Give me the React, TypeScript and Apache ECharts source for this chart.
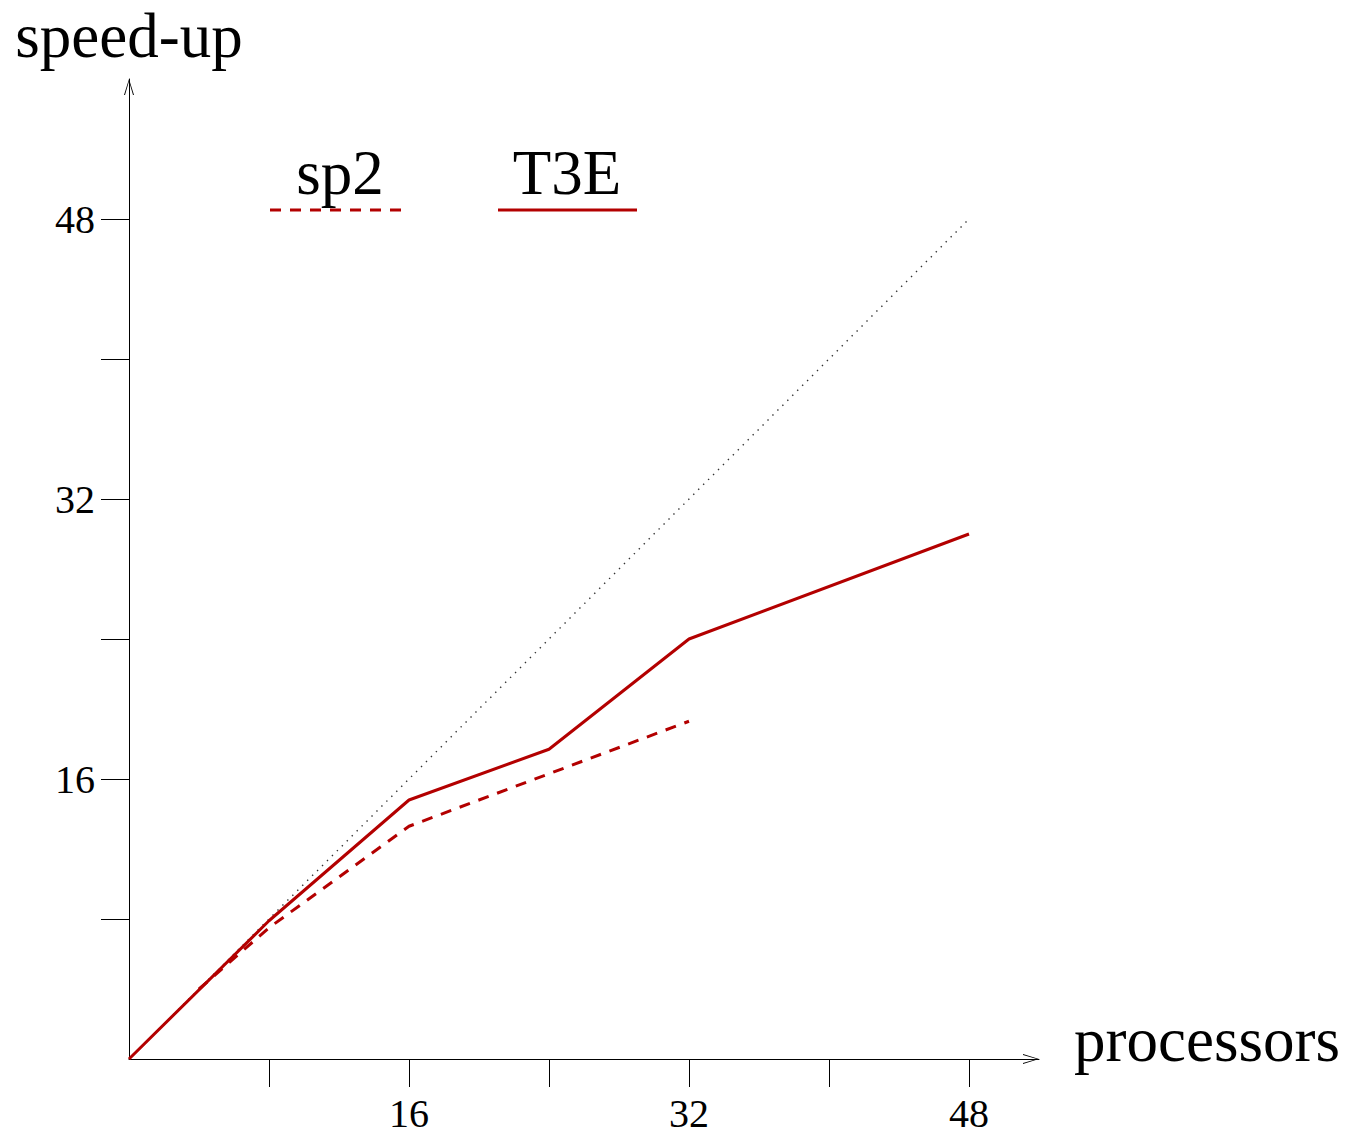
import React, { useEffect, useRef } from "react";
import * as echarts from "echarts";

// ---- data ----
const tickValues = [8, 16, 24, 32, 40, 48];
const labelValues = [16, 32, 48];
const idealProcs = [0, 48];
const idealSpeed = [0, 48];
const t3eProcs = [0, 8, 16, 24, 32, 48];
const t3eSpeed = [0, 7.9, 14.8, 17.7, 24.0, 30.0];
const sp2Procs = [4, 8, 16, 24, 32];
const sp2Speed = [4, 7.5, 13.3, 16.3, 19.3];
const xName = "processors";
const yName = "speed-up";
const seriesNames = ["sp2", "T3E"];

const RED = "#b30000";
const FONT = "'Liberation Serif', 'Times New Roman', serif";
const ARROW = "path://M5,0 L10,16 L9,16 L5,2.2 L1,16 L0,16 Z";

const pairs = (xs: number[], ys: number[]) => xs.map((x, i) => [x, ys[i]]);

export default function App() {
  const ref = useRef<HTMLDivElement>(null);
  useEffect(() => {
    if (!ref.current) return;
    const chart = echarts.init(ref.current, undefined, { renderer: "svg" });
    const axisCommon = {
      type: "value" as const,
      min: 0,
      splitLine: { show: false },
      axisLine: {
        show: true,
        lineStyle: { color: "#000", width: 1 },
        symbol: ["none", ARROW],
        symbolSize: [10, 16],
        symbolOffset: [0, -8],
      },
      axisTick: { show: true, length: 28, customValues: tickValues, lineStyle: { color: "#000", width: 1 } },
      axisLabel: {
        customValues: labelValues,
        margin: 34,
        color: "#000",
        fontFamily: FONT,
        fontSize: 40,
      },
      nameTextStyle: { color: "#000", fontFamily: FONT, fontSize: 63 },
    };
    chart.setOption({
      animation: false,
      backgroundColor: "#fff",
      grid: { left: 129, right: 310, top: 79, bottom: 78, containLabel: false },
      xAxis: {
        ...axisCommon,
        max: 52,
        name: xName,
        nameLocation: "end",
        nameGap: 35,
        nameTextStyle: { ...axisCommon.nameTextStyle, verticalAlign: "bottom", lineHeight: 38 },
      },
      yAxis: {
        ...axisCommon,
        max: 56,
        name: yName,
        nameLocation: "end",
        nameGap: 12,
        nameTextStyle: { ...axisCommon.nameTextStyle, align: "center", verticalAlign: "bottom" },
      },
      series: [
        {
          name: "ideal",
          type: "line",
          data: pairs(idealProcs, idealSpeed),
          showSymbol: false,
          silent: true,
          lineStyle: { color: "#333", width: 1.4, type: [1.4, 5.6] },
          z: 1,
        },
        {
          name: seriesNames[1],
          type: "line",
          data: pairs(t3eProcs, t3eSpeed),
          showSymbol: false,
          silent: true,
          lineStyle: { color: RED, width: 3, type: "solid" },
          z: 2,
        },
        {
          name: seriesNames[0],
          type: "line",
          data: pairs(sp2Procs, sp2Speed),
          showSymbol: false,
          silent: true,
          lineStyle: { color: RED, width: 3, type: [11, 9] },
          z: 3,
        },
      ],
      graphic: [
        {
          type: "text",
          x: 340,
          y: 173,
          style: { text: seriesNames[0], font: `63px ${FONT}`, fill: "#000", align: "center", verticalAlign: "middle" },
        },
        {
          type: "line",
          shape: { x1: 270, y1: 210, x2: 406, y2: 210 },
          style: { stroke: RED, lineWidth: 3, lineDash: [11, 9] },
        },
        {
          type: "text",
          x: 567,
          y: 173,
          style: { text: seriesNames[1], font: `63px ${FONT}`, fill: "#000", align: "center", verticalAlign: "middle" },
        },
        {
          type: "line",
          shape: { x1: 498, y1: 210, x2: 637, y2: 210 },
          style: { stroke: RED, lineWidth: 3 },
        },
      ],
    });
    return () => chart.dispose();
  }, []);
  return (
    <div
      ref={ref}
      style={{ position: "absolute", left: 0, top: 0, width: 1349, height: 1137, background: "#fff" }}
    />
  );
}
